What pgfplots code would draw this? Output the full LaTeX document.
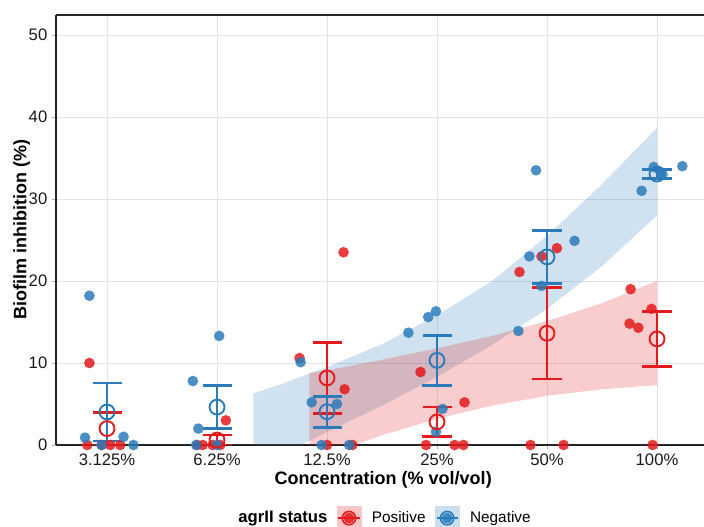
\documentclass[border=0pt]{standalone}
\usepackage{fontspec}
\setmainfont{Liberation Sans}
\usepackage{pgfplots}
\pgfplotsset{compat=1.18}
\usepgfplotslibrary{fillbetween}
\definecolor{cpos}{HTML}{E41A1C}
\definecolor{cneg}{HTML}{2B7BBA}

\begin{document}
\begin{tikzpicture}
\begin{axis}[
  scale only axis, width=486pt, height=322.5pt,
  xmin=0.536, xmax=6.427, ymin=0, ymax=52.44,
  xtick={1,...,6},
  xticklabels={3.125\%,6.25\%,12.5\%,25\%,50\%,100\%},
  ytick={0,10,...,50},
  axis x line=box, axis y line=left,
  axis line style={-, line width=1.3pt, black!85},
  grid=major, grid style={gray!22, line width=0.7pt},
  tick align=outside, major tick length=3pt,
  tick style={gray!60, line width=0.7pt},
  xtick pos=left,
  ticklabel style={font=\fontsize{12.5}{14}\selectfont, text=black!90},
  /pgf/number format/assume math mode=true,
  xlabel={Concentration (\% vol/vol)},
  ylabel={Biofilm inhibition (\%)},
  xlabel style={at={(axis description cs:0.505,-0.081)}, anchor=center,
    font=\fontsize{13.5}{16}\selectfont\bfseries},
  ylabel style={at={(axis description cs:-0.053,0.5)}, anchor=center,
    font=\fontsize{13.5}{16}\selectfont\bfseries},
  legend columns=3,
  legend style={draw=none, fill=none, at={(0.507,-0.17)}, anchor=center,
    font=\fontsize{11.5}{14}\selectfont,
    /tikz/every even column/.append style={column sep=4pt},
    cells={anchor=west}},
]
% confidence ribbons
\addplot[name path=nu, draw=none, forget plot] coordinates {
  (2.33,6.3) (2.6,7.5) (3.0,9.5) (3.5,12.3) (4.0,15.8) (4.5,20.0) (5.0,25.5) (5.5,31.8) (6.0,38.7)};
\addplot[name path=nl, draw=none, forget plot] coordinates {
  (2.33,-3) (2.6,-1) (2.84,0.5) (3.0,1.6) (3.5,4.8) (4.0,8.3) (4.5,12.2) (5.0,16.6) (5.5,21.8) (6.0,28.0)};
\addplot[fill=cneg, fill opacity=0.22, draw=none, forget plot] fill between[of=nu and nl];

\addplot[name path=pu, draw=none, forget plot] coordinates {
  (2.84,8.8) (3.0,9.1) (3.5,10.4) (4.0,11.8) (4.5,13.3) (5.0,15.1) (5.5,17.3) (6.0,20.0)};
\addplot[name path=pl, draw=none, forget plot] coordinates {
  (2.84,-2.5) (3.0,-1.2) (3.5,1.2) (4.0,3.2) (4.5,4.8) (5.0,6.0) (5.5,6.8) (6.0,7.3)};
\addplot[fill=cpos, fill opacity=0.22, draw=none, forget plot] fill between[of=pu and pl];

% individual isolates (jittered)
\addplot[cpos, only marks, mark=*, mark size=4pt, mark options={draw=cpos, draw opacity=0, fill=cpos, fill opacity=0.85}, forget plot] coordinates {
  (0.84,10.0) (0.82,0) (0.95,0) (1.03,0) (1.12,0)
  (2.08,3.0) (1.82,0) (1.87,0) (1.96,0) (2.03,0)
  (3.15,23.5) (2.75,10.6) (3.16,6.8) (3.23,0) (3.0,0)
  (3.85,8.9) (4.25,5.2) (4.16,0) (4.24,0) (3.9,0)
  (4.75,21.1) (4.95,23.0) (5.09,24.0) (4.85,0) (5.15,0)
  (5.76,19.0) (5.95,16.6) (5.75,14.8) (5.83,14.3) (5.96,0)};
\addplot[cneg, only marks, mark=*, mark size=4pt, mark options={draw=cneg, draw opacity=0, fill=cneg, fill opacity=0.85}, forget plot] coordinates {
  (0.84,18.2) (0.80,0.9) (1.15,1.0) (1.24,0) (0.95,0)
  (2.02,13.3) (1.78,7.8) (1.83,2.0) (1.81,0) (2.0,0)
  (2.76,10.1) (2.86,5.2) (3.09,5.0) (2.95,0) (3.2,0)
  (3.74,13.7) (3.92,15.6) (3.99,16.3) (4.05,4.4) (3.99,1.6)
  (4.90,33.5) (4.84,23.0) (5.25,24.9) (4.95,19.4) (4.74,13.9)
  (6.23,34.0) (5.86,31.0) (5.97,33.9) (6.03,33.3) (6.05,33.0)};

% mean +- SE
\addplot[cpos, only marks, mark=o, mark size=5.6pt, mark options={cpos, line width=1.4pt}, forget plot,
  error bars/.cd, y dir=both, y explicit,
  error bar style={cpos, line width=1.9pt},
  error mark options={rotate=90, cpos, line width=2pt, mark size=10.9pt}] coordinates {
  (1,2.0) +- (0,2.0)
  (2,0.6) +- (0,0.6)
  (3,8.18) +- (0,4.34)
  (4,2.82) +- (0,1.82)
  (5,13.62) +- (0,5.58)
  (6,12.94) +- (0,3.34)};
\addplot[cneg, only marks, mark=o, mark size=5.6pt, mark options={cneg, line width=1.4pt}, forget plot,
  error bars/.cd, y dir=both, y explicit,
  error bar style={cneg, line width=1.9pt},
  error mark options={rotate=90, cneg, line width=2pt, mark size=10.9pt}] coordinates {
  (1,4.02) +- (0,3.55)
  (2,4.62) +- (0,2.60)
  (3,4.06) +- (0,1.89)
  (4,10.32) +- (0,3.05)
  (5,22.94) +- (0,3.24)
  (6,33.04) +- (0,0.54)};

% legend
\addlegendimage{empty legend}
\addlegendentry{\fontsize{12.5}{14}\selectfont\bfseries agrII status}
\addlegendimage{legend image code/.code={
  \path (-1pt,0pt) (24pt,0pt);
  \fill[cpos!25] (0pt,-9pt) rectangle (18pt,9pt);
  \fill[cpos, fill opacity=0.85] (9pt,0pt) circle (3.75pt);
  \draw[cpos, line width=1.5pt] (1pt,0pt) -- (17pt,0pt);
  \draw[cpos, line width=1.2pt] (9pt,0pt) circle (5pt);}}
\addlegendentry{Positive}
\addlegendimage{legend image code/.code={
  \path (-1pt,0pt) (24pt,0pt);
  \fill[cneg!25] (0pt,-9pt) rectangle (18pt,9pt);
  \fill[cneg, fill opacity=0.85] (9pt,0pt) circle (3.75pt);
  \draw[cneg, line width=1.5pt] (1pt,0pt) -- (17pt,0pt);
  \draw[cneg, line width=1.2pt] (9pt,0pt) circle (5pt);}}
\addlegendentry{Negative}
\end{axis}
\pgfresetboundingbox
\path[use as bounding box] (-42pt,-61.5pt) rectangle (486pt,333.75pt);
\end{tikzpicture}
\end{document}
